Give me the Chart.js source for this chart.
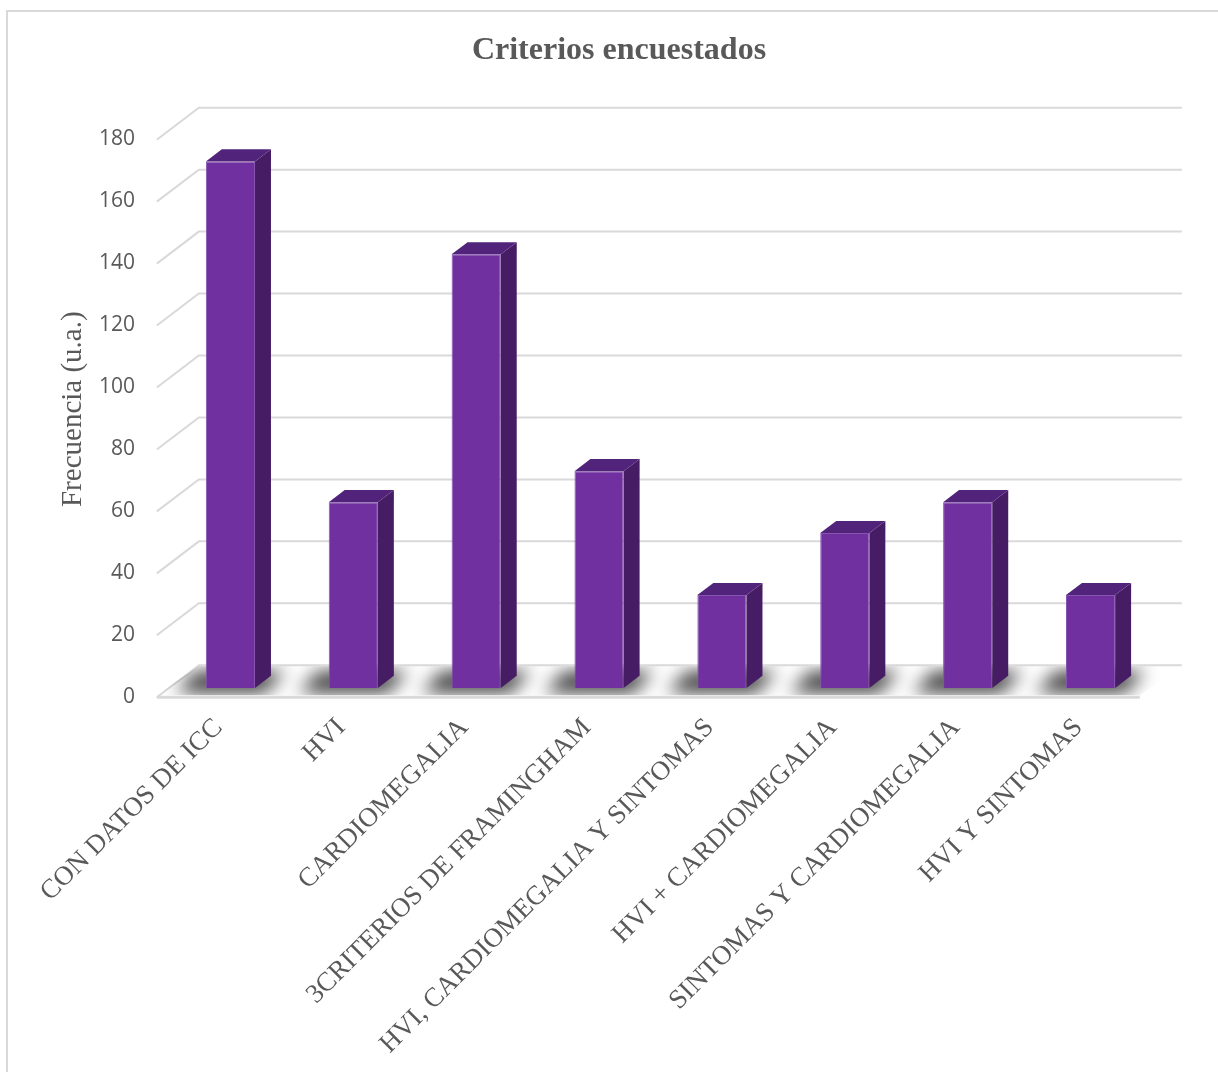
<!DOCTYPE html>
<html><head><meta charset="utf-8">
<script src="https://cdn.jsdelivr.net/npm/chart.js@4.4.1/dist/chart.umd.min.js"></script>
<style>html,body{margin:0;padding:0;background:#fff;} #wrap{width:1218px;height:1072px;}</style>
</head><body><div id="wrap"><canvas id="c" width="1218" height="1072"></canvas></div>
<script>
const categories = ['CON DATOS DE ICC','HVI','CARDIOMEGALIA','3CRITERIOS DE FRAMINGHAM','HVI, CARDIOMEGALIA Y SINTOMAS','HVI + CARDIOMEGALIA','SINTOMAS Y CARDIOMEGALIA','HVI Y SINTOMAS'];
const frecuencia = [170, 60, 140, 70, 30, 50, 60, 30];
const yMin = 0, yMax = 180, yStep = 20;
const chartTitle = 'Criterios encuestados';
const yTitle = 'Frecuencia (u.a.)';

const SERIF = "'Liberation Serif','Times New Roman',serif";
const DEPTH = {dx: 42, dy: -32};
const FRONT = -0.29, BACK = 0.71, BAR_DEPTH = 0.38;

const depthPlugin = {
  id: 'depth3d',
  beforeDraw(chart) {
    const ctx = chart.ctx;
    ctx.save();
    ctx.fillStyle = '#fff';
    ctx.fillRect(0, 0, chart.width, chart.height);
    ctx.strokeStyle = '#d9d9d9';
    ctx.lineWidth = 2;
    ctx.strokeRect(7, 11, 1400, 1400);
    ctx.restore();
  },
  beforeDatasetsDraw(chart) {
    const {ctx, chartArea: a, scales: {x, y}} = chart;
    const fx = DEPTH.dx * FRONT, fy = DEPTH.dy * FRONT;
    const bx = DEPTH.dx * BACK, by = DEPTH.dy * BACK;
    ctx.save();
    ctx.strokeStyle = '#d9d9d9';
    ctx.lineWidth = 2;
    y.ticks.forEach(t => {
      const py = y.getPixelForValue(t.value);
      ctx.beginPath();
      ctx.moveTo(a.left + fx, py + fy);
      ctx.lineTo(a.left + bx, py + by);
      ctx.lineTo(a.right + bx, py + by);
      ctx.stroke();
    });
    const p0 = y.getPixelForValue(0);
    // shadows on floor
    ctx.save();
    ctx.beginPath();
    ctx.moveTo(a.left + fx, p0 + fy - 2);
    ctx.lineTo(a.right + fx, p0 + fy - 2);
    ctx.lineTo(a.right + bx, p0 + by + 1);
    ctx.lineTo(a.left + bx, p0 + by + 1);
    ctx.closePath();
    ctx.clip();
    ctx.filter = 'blur(9px)';
    ctx.fillStyle = 'rgba(0,0,0,0.75)';
    chart.getDatasetMeta(0).data.forEach(bar => {
      const {x: cx, base, width} = bar.getProps(['x', 'base', 'width'], true);
      const xl = cx - width / 2, xr = cx + width / 2;
      ctx.beginPath();
      ctx.moveTo(xl - 30, base + 5);
      ctx.lineTo(xr + 10, base + 5);
      ctx.lineTo(xr + 30, base - 17);
      ctx.lineTo(xl - 10, base - 17);
      ctx.closePath();
      ctx.fill();
    });
    ctx.restore();
    // floor front edge
    ctx.strokeStyle = '#d9d9d9';
    ctx.lineWidth = 3;
    ctx.beginPath();
    ctx.moveTo(a.left + fx, p0 + fy);
    ctx.lineTo(a.right + fx, p0 + fy);
    ctx.stroke();
    ctx.restore();
  },
  afterDatasetsDraw(chart) {
    const ctx = chart.ctx;
    const ddx = DEPTH.dx * BAR_DEPTH, ddy = DEPTH.dy * BAR_DEPTH;
    ctx.save();
    chart.getDatasetMeta(0).data.forEach(bar => {
      const {x: cx, y: top, base, width} = bar.getProps(['x', 'y', 'base', 'width'], true);
      const xl = cx - width / 2, xr = cx + width / 2;
      ctx.fillStyle = '#461d64';
      ctx.beginPath();
      ctx.moveTo(xr, top);
      ctx.lineTo(xr + ddx, top + ddy);
      ctx.lineTo(xr + ddx, base + ddy);
      ctx.lineTo(xr, base);
      ctx.closePath();
      ctx.fill();
      ctx.fillStyle = '#52237a';
      ctx.beginPath();
      ctx.moveTo(xl, top);
      ctx.lineTo(xl + ddx, top + ddy);
      ctx.lineTo(xr + ddx, top + ddy);
      ctx.lineTo(xr, top);
      ctx.closePath();
      ctx.fill();
    });
    ctx.restore();
  }
};

new Chart(document.getElementById('c'), {
  type: 'bar',
  data: {
    labels: categories,
    datasets: [{
      data: frecuencia,
      backgroundColor: '#7030a0',
      borderColor: '#8556b0',
      borderWidth: 1,
      barPercentage: 0.4,
      categoryPercentage: 1.0
    }]
  },
  plugins: [depthPlugin],
  options: {
    responsive: false,
    animation: false,
    layout: {padding: {left: 20, right: 0, top: 0, bottom: 0}},
    plugins: {
      legend: {display: false},
      tooltip: {enabled: false},
      title: {
        display: true, text: chartTitle, color: '#595959',
        font: {family: SERIF, size: 32, weight: 'bold'},
        padding: {top: 32, bottom: 60}
      }
    },
    scales: {
      x: {
        grid: {display: false, drawTicks: false},
        border: {display: false},
        ticks: {
          autoSkip: false, minRotation: 45, maxRotation: 45,
          padding: 24, labelOffset: -12, color: '#595959',
          font: {family: SERIF, size: 27}
        },
        afterFit(s) { s.height = 384; }
      },
      y: {
        min: yMin, max: yMax,
        grid: {display: false, drawTicks: false},
        border: {display: false},
        ticks: {
          stepSize: yStep, padding: 34, labelOffset: 9, color: '#595959',
          font: {family: "'Open Sans',sans-serif", size: 21}
        },
        title: {
          display: true, text: yTitle, color: '#595959',
          font: {family: SERIF, size: 29},
          padding: {top: 36, bottom: 0}
        },
        afterFit(s) { s.width = 149; }
      },
      yRight: {
        position: 'right',
        display: true,
        grid: {display: false, drawTicks: false},
        border: {display: false},
        ticks: {display: false},
        afterFit(s) { s.width = 66; }
      }
    }
  }
});
</script>
</body></html>
